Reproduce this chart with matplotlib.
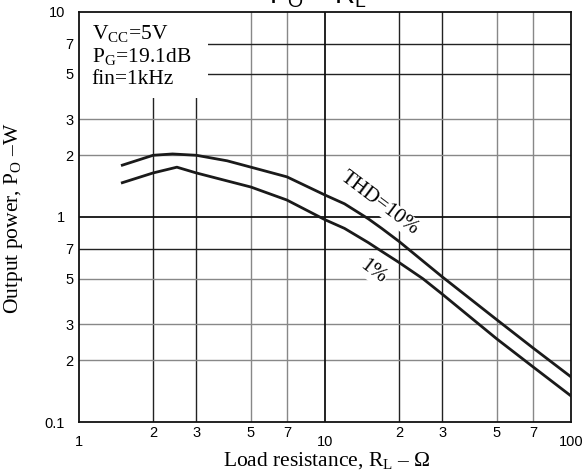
import matplotlib
matplotlib.use('agg')
import matplotlib.pyplot as plt
from matplotlib.ticker import FixedLocator, FixedFormatter

plt.rcParams['font.family'] = ['Liberation Serif', 'DejaVu Serif']
plt.rcParams['mathtext.fontset'] = 'custom'
plt.rcParams['mathtext.rm'] = 'Liberation Serif'
plt.rcParams['mathtext.it'] = 'Liberation Serif:italic'
plt.rcParams['mathtext.sf'] = 'Liberation Sans'

# load resistance (ohm) and output power (W)
rl_10 = [1.5, 2, 2.4, 3, 4, 5, 7, 10, 12, 15, 17, 20, 25, 30, 50, 70, 100]
po_10 = [1.79, 2.0, 2.03, 2.0, 1.88, 1.75, 1.57, 1.28, 1.16, 0.98, 0.88, 0.76, 0.61, 0.51,
         0.315, 0.23, 0.166]
rl_1 = [1.5, 2, 2.5, 3, 4, 5, 7, 10, 12, 15, 17, 20, 25, 30, 50, 70, 100]
po_1 = [1.47, 1.64, 1.75, 1.64, 1.5, 1.40, 1.21, 0.97, 0.88, 0.75, 0.68, 0.6, 0.5, 0.42,
        0.254, 0.186, 0.134]

x_major = [1, 10, 100]
x_major_labels = ['1', '10', '100']
x_minor = [2, 3, 5, 7, 20, 30, 50, 70]
x_minor_labels = ['2', '3', '5', '7', '2', '3', '5', '7']
y_major = [0.1, 1, 10]
y_major_labels = ['0.1', '1', '10']
y_minor = [0.2, 0.3, 0.5, 0.7, 2, 3, 5, 7]
y_minor_labels = ['2', '3', '5', '7', '2', '3', '5', '7']

x_dark = [2, 3, 20, 30]
x_gray = [5, 7, 50, 70]
y_dark = [0.7, 5, 7]
y_gray = [0.2, 0.3, 0.5, 2, 3]

fig = plt.figure(figsize=(5.85, 4.72), dpi=100)
ax = fig.add_axes([79/585, 1 - 422/472, 492/585, 410/472])
ax.set_xscale('log')
ax.set_yscale('log')
ax.set_xlim(1, 100)
ax.set_ylim(0.1, 10)

for v in x_dark:
    ax.axvline(v, color='#222222', lw=1.0, zorder=1)
for v in x_gray:
    ax.axvline(v, color='#888888', lw=1.0, zorder=1)
for v in y_dark:
    ax.axhline(v, color='#222222', lw=1.0, zorder=1)
for v in y_gray:
    ax.axhline(v, color='#888888', lw=1.0, zorder=1)
ax.axvline(10, color='#111111', lw=1.3, zorder=1)
ax.axhline(1, color='#111111', lw=1.3, zorder=1)

ax.plot(rl_10, po_10, color='#1a1a1a', lw=2.0, zorder=3)
ax.plot(rl_1, po_1, color='#1a1a1a', lw=2.0, zorder=3)

# white box behind the conditions text
ax.add_patch(plt.Rectangle((0, 1 - 86/410), 129/492, 86/410, transform=ax.transAxes,
                           facecolor='white', edgecolor='none', zorder=2))
ax.text(0.026, 0.934, r'$\mathrm{V_{CC}}$=5V', transform=ax.transAxes, fontsize=15.5,
        va='baseline', zorder=4)
ax.text(0.026, 0.878, r'$\mathrm{P_{G}}$=19.1dB', transform=ax.transAxes, fontsize=15.5,
        va='baseline', zorder=4)
ax.text(0.026, 0.824, 'fin=1kHz', transform=ax.transAxes, fontsize=15.5,
        va='baseline', zorder=4)

ax.text(16.7, 1.16, 'THD=10%', fontsize=15, rotation=-37, ha='center', va='center',
        rotation_mode='anchor', zorder=4,
        bbox=dict(facecolor='white', edgecolor='none', pad=0.5))
ax.text(15.7, 0.54, '1%', fontsize=15, rotation=-37, ha='center', va='center',
        rotation_mode='anchor', zorder=4,
        bbox=dict(facecolor='white', edgecolor='none', pad=0.5))

ax.xaxis.set_major_locator(FixedLocator(x_major))
ax.xaxis.set_major_formatter(FixedFormatter(x_major_labels))
ax.xaxis.set_minor_locator(FixedLocator(x_minor))
ax.xaxis.set_minor_formatter(FixedFormatter(x_minor_labels))
ax.yaxis.set_major_locator(FixedLocator(y_major))
ax.yaxis.set_major_formatter(FixedFormatter(y_major_labels))
ax.yaxis.set_minor_locator(FixedLocator(y_minor))
ax.yaxis.set_minor_formatter(FixedFormatter(y_minor_labels))

ax.tick_params(axis='x', which='major', length=0, pad=9, labelsize=10.5)
ax.tick_params(axis='x', which='minor', length=0, pad=3, labelsize=10.5)
ax.tick_params(axis='y', which='major', length=0, pad=10, labelsize=10.5)
ax.tick_params(axis='y', which='minor', length=0, pad=4, labelsize=10.5)
for lab in ax.get_xticklabels(which='both') + ax.get_yticklabels(which='both'):
    lab.set_fontfamily('Liberation Sans')

for s in ax.spines.values():
    s.set_linewidth(1.3)
    s.set_color('#111111')

ax.set_xlabel(r'Load resistance, $\mathrm{R_L}$ – Ω', fontsize=15.5)
ax.set_ylabel(r'Output power, $\mathrm{P_O}$ –W', fontsize=15.5)
ax.xaxis.set_label_coords(0.504, -0.068)
ax.yaxis.set_label_coords(-0.11, 0.498)

fig.text(318/585, 1 - 4/472, r'$\mathsf{P_O}$ – $\mathsf{R_L}$', fontsize=20,
         family='Liberation Sans', ha='center', va='baseline')

fig.savefig('out.png', dpi=100)
